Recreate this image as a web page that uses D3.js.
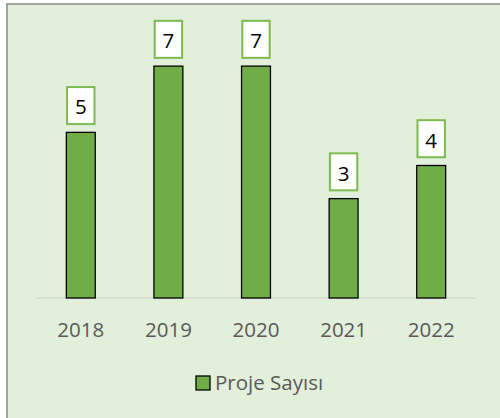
<!DOCTYPE html>
<html>
<head>
<meta charset="utf-8">
<script src="https://cdn.jsdelivr.net/npm/d3@7"></script>
<style>
    body { margin: 0; background: #fff; }
    svg { display: block; }
    text { font-family: "Open Sans", "Noto Sans", sans-serif; }
</style>
</head>
<body>
<svg id="chart"></svg>
<script>
const years = ['2018', '2019', '2020', '2021', '2022'];
const projeSayisi = [5, 7, 7, 3, 4];
const seriesName = 'Proje Sayısı';

const width = 500, height = 418;
const fontFamily = '"Open Sans", "Noto Sans", sans-serif';
const svg = d3.select('#chart')
    .attr('width', width)
    .attr('height', height);

// chart area, border only on left/top (cropped on the other sides)
svg.append('rect')
    .attr('x', 7).attr('y', 4)
    .attr('width', width).attr('height', height)
    .attr('fill', '#e2efda')
    .attr('stroke', '#8c8c8c')
    .attr('stroke-width', 1.5);

const x = d3.scaleBand()
    .domain(years)
    .range([37, 475])
    .paddingInner(0.67)
    .paddingOuter(0.335);

const y = d3.scaleLinear()
    .domain([0, 8])
    .range([298, 33]);

// baseline
svg.append('line')
    .attr('x1', 37).attr('x2', 475)
    .attr('y1', y(0)).attr('y2', y(0))
    .attr('stroke', '#d0d4cc')
    .attr('stroke-width', 1.2);

svg.append('g')
    .selectAll('rect.bar')
    .data(projeSayisi)
    .join('rect')
    .classed('bar', true)
    .attr('x', (d, i) => x(years[i]))
    .attr('y', d => y(d))
    .attr('width', x.bandwidth())
    .attr('height', d => y(0) - y(d))
    .attr('fill', '#70ad47')
    .attr('stroke', '#000')
    .attr('stroke-width', 1.3);

// data labels
const labels = svg.append('g')
    .selectAll('g.label')
    .data(projeSayisi)
    .join('g')
    .classed('label', true)
    .attr('transform', (d, i) => `translate(${x(years[i]) + x.bandwidth() / 2},${y(d) - 8})`);

labels.append('rect')
    .attr('x', -13.7).attr('y', -37.3)
    .attr('width', 27.4).attr('height', 37)
    .attr('fill', '#fff')
    .attr('stroke', '#7dbb52')
    .attr('stroke-width', 2);

labels.append('text')
    .attr('text-anchor', 'middle')
    .attr('y', -10)
    .attr('font-size', 20.5)
    .attr('fill', '#000')
    .text(d => d);

// x axis
const xAxis = svg.append('g')
    .attr('transform', `translate(0,${y(0)})`)
    .call(d3.axisBottom(x).tickSize(0).tickPadding(24));
xAxis.select('.domain').remove();
xAxis.selectAll('text')
    .attr('font-size', 20.5)
    .attr('fill', '#595959')
    .style('font-family', fontFamily);

// legend
const legend = svg.append('g').attr('transform', 'translate(196,376)');
legend.append('rect')
    .attr('width', 14).attr('height', 14)
    .attr('fill', '#70ad47')
    .attr('stroke', '#000')
    .attr('stroke-width', 1.3);
legend.append('text')
    .attr('x', 19).attr('y', 14)
    .attr('font-size', 20.5)
    .attr('fill', '#595959')
    .text(seriesName);
</script>
</body>
</html>
